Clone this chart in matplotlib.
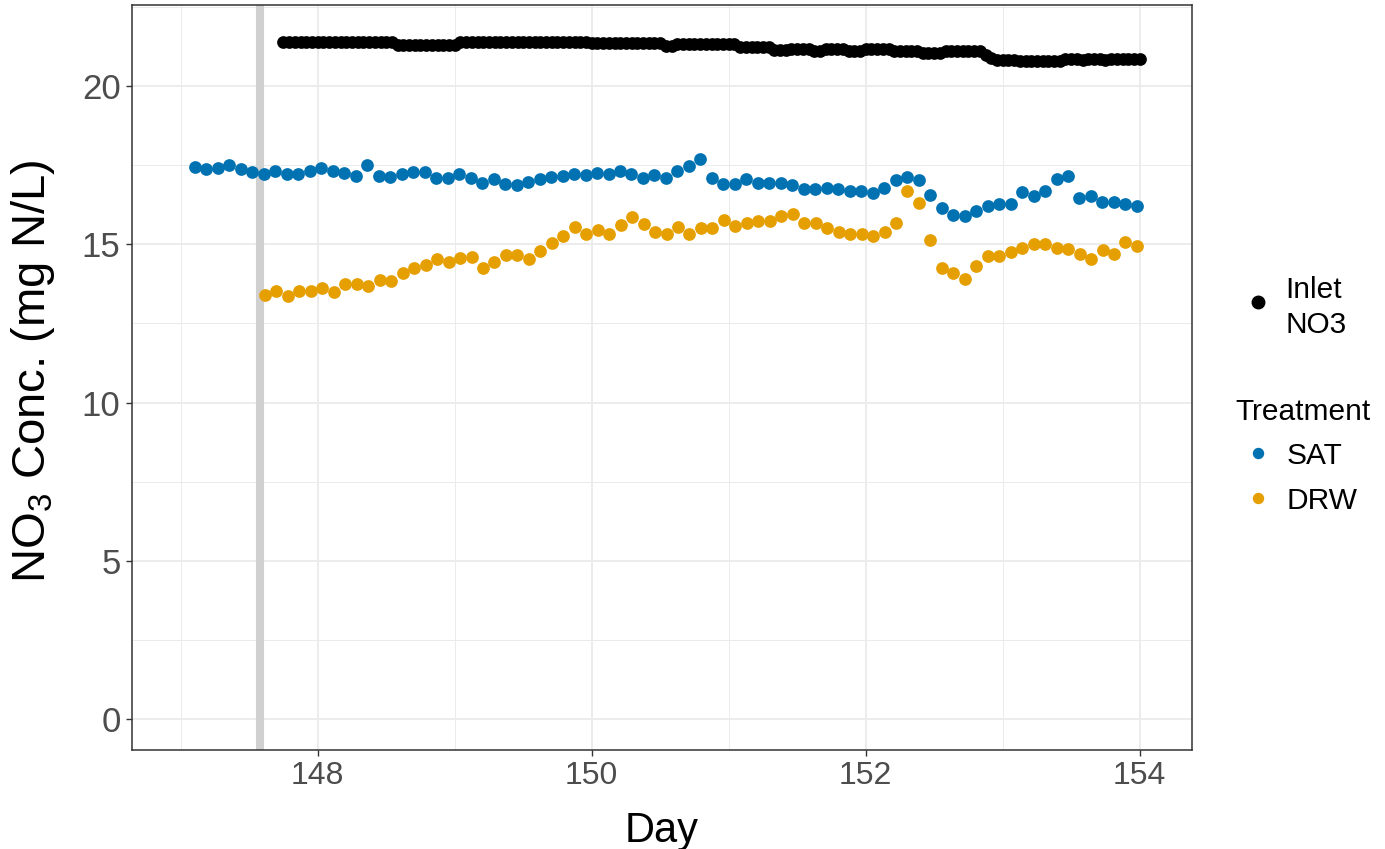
import numpy as np
import matplotlib
matplotlib.use("Agg")
import matplotlib.pyplot as plt
from matplotlib.lines import Line2D

plt.rcParams['font.family'] = ['Liberation Sans', 'DejaVu Sans']
plt.rcParams['mathtext.fontset'] = 'custom'
plt.rcParams['mathtext.rm'] = 'Liberation Sans'

# Outlet nitrate, sampled every ~2 h (mg N/L)
sat_no3 = [
    17.44, 17.39, 17.42, 17.50, 17.39, 17.29, 17.21, 17.31, 17.23, 17.23,
    17.33, 17.42, 17.33, 17.26, 17.15, 17.50, 17.15,
    17.12, 17.21, 17.29, 17.29, 17.10, 17.10, 17.23, 17.10, 16.94, 17.05,
    16.89, 16.87, 16.97, 17.05, 17.12, 17.15, 17.22,
    17.18, 17.26, 17.23, 17.31, 17.23, 17.10, 17.18, 17.10, 17.33, 17.47,
    17.68, 17.10, 16.91, 16.91, 17.05, 16.94, 16.92,
    16.93, 16.88, 16.75, 16.75, 16.77, 16.75, 16.67, 16.67, 16.62, 16.77,
    17.03, 17.14, 17.03, 16.56, 16.14, 15.91, 15.89,
    16.05, 16.21, 16.28, 16.26, 16.66, 16.52, 16.68, 17.05, 17.16, 16.47,
    16.52, 16.34, 16.34, 16.28, 16.21,
]
drw_no3 = [
    13.39, 13.52, 13.36, 13.52, 13.52, 13.61, 13.50, 13.73, 13.73, 13.68,
    13.86, 13.84, 14.10, 14.26, 14.36, 14.52, 14.45, 14.57, 14.59, 14.26,
    14.45, 14.66, 14.66, 14.55, 14.78, 15.05, 15.26, 15.55,
    15.33, 15.44, 15.33, 15.61, 15.86, 15.65, 15.40, 15.32, 15.54, 15.32,
    15.52, 15.52, 15.78, 15.57, 15.67, 15.75, 15.73,
    15.89, 15.96, 15.68, 15.68, 15.52, 15.40, 15.32, 15.32, 15.26, 15.40,
    15.68, 16.68, 16.31, 15.12, 14.26, 14.10, 13.89,
    14.31, 14.63, 14.63, 14.76, 14.89, 15.02, 15.02, 14.89, 14.84, 14.70,
    14.52, 14.81, 14.70, 15.08, 14.94,
]
# Inlet nitrate, hourly readings (mg N/L)
inlet_no3 = [
    21.40, 21.40, 21.40, 21.40, 21.40, 21.40, 21.40, 21.40, 21.40, 21.40, 21.40, 21.40,
    21.40, 21.40, 21.40, 21.40, 21.40, 21.40, 21.40, 21.40, 21.31, 21.31, 21.31, 21.31,
    21.31, 21.31, 21.31, 21.31, 21.31, 21.31, 21.31, 21.39, 21.39, 21.39, 21.39, 21.39,
    21.39, 21.39, 21.39, 21.39, 21.39, 21.39, 21.39, 21.39, 21.39, 21.39, 21.39, 21.39,
    21.39, 21.39, 21.39, 21.39, 21.39, 21.39, 21.35, 21.35, 21.35, 21.35, 21.35, 21.35,
    21.35, 21.35, 21.35, 21.35, 21.35, 21.35, 21.35, 21.28, 21.28, 21.33, 21.33, 21.33,
    21.33, 21.33, 21.33, 21.33, 21.33, 21.33, 21.33, 21.33, 21.24, 21.24, 21.24, 21.24,
    21.22, 21.22, 21.15, 21.15, 21.15, 21.18, 21.18, 21.18, 21.18, 21.10, 21.10, 21.17,
    21.17, 21.17, 21.17, 21.10, 21.10, 21.10, 21.17, 21.17, 21.17, 21.17, 21.17, 21.10,
    21.10, 21.10, 21.10, 21.10, 21.03, 21.03, 21.03, 21.03, 21.11, 21.11, 21.11, 21.11,
    21.11, 21.11, 21.11, 20.98, 20.88, 20.82, 20.82, 20.82, 20.82, 20.80, 20.80, 20.80,
    20.80, 20.80, 20.80, 20.80, 20.80, 20.84, 20.84, 20.84, 20.81, 20.84, 20.84, 20.84,
    20.81, 20.85, 20.85, 20.85, 20.85, 20.85, 20.85,
]

sat_days = (147.104, 153.98)
drw_days = (147.615, 153.98)
inlet_start_day = 147.75
inlet_step_hours = 1.0
marker_day = 147.575

treatments = ['SAT', 'DRW']
colors = {'SAT': '#0072B2', 'DRW': '#E69F00', 'Inlet': '#000000'}
x_ticks = [148, 150, 152, 154]
x_minor = [147, 149, 151, 153]
y_ticks = [0, 5, 10, 15, 20]
y_minor = [2.5, 7.5, 12.5, 17.5, 22.5]

sat_x = np.linspace(sat_days[0], sat_days[1], len(sat_no3))
drw_x = np.linspace(drw_days[0], drw_days[1], len(drw_no3))
inlet_x = inlet_start_day + np.arange(len(inlet_no3)) * inlet_step_hours / 24.0

W, H = 1385, 849
fig = plt.figure(figsize=(W / 100, H / 100), dpi=100)
ax_l, ax_r, ax_t, ax_b = 131.7, 1192, 5, 750
ax = fig.add_axes([ax_l / W, 1 - ax_b / H, (ax_r - ax_l) / W, (ax_b - ax_t) / H])

grid_c = '#EBEBEB'
border_c = '#333333'
ax.set_xlim(146.642, 154.382)
ax.set_ylim(-0.98, 22.56)
ax.set_xticks(x_ticks)
ax.set_xticks(x_minor, minor=True)
ax.set_yticks(y_ticks)
ax.set_yticks(y_minor, minor=True)
ax.grid(True, which='major', color=grid_c, lw=1.3, zorder=0)
ax.grid(True, which='minor', color=grid_c, lw=0.7, zorder=0)
ax.set_axisbelow(True)
ax.tick_params(which='minor', length=0)
ax.tick_params(which='major', length=4, width=1.0, color=border_c,
               labelsize=23, labelcolor='#4D4D4D', pad=4)
ax.tick_params(axis='y', which='major', labelsize=25)
for s in ax.spines.values():
    s.set_color(border_c)
    s.set_linewidth(1.1)

ax.axvline(marker_day, color='#D0D0D0', lw=5.8, zorder=1)

ms = 84
ax.scatter(inlet_x, inlet_no3, s=ms, color=colors['Inlet'], lw=0, zorder=3)
ax.scatter(sat_x, sat_no3, s=ms, color=colors['SAT'], lw=0, zorder=3)
ax.scatter(drw_x, drw_no3, s=ms, color=colors['DRW'], lw=0, zorder=3)

ax.set_xlabel('Day', fontsize=30, color='black', labelpad=14)
ax.set_ylabel(r'NO$_{\mathrm{3}}$ Conc. (mg N/L)', fontsize=34, color='black')
ax.yaxis.set_label_coords((57 - ax_l) / (ax_r - ax_l), (ax_b - 371) / (ax_b - ax_t))


def fx(px):
    return px / W


def fy(py):
    return 1 - py / H


leg_fs = 21.5
fig.add_artist(Line2D([fx(1258.3)], [fy(302.3)], marker='o', ms=9.0, color='black',
                      lw=0, transform=fig.transFigure))
fig.text(fx(1285), fy(298.3), 'Inlet', fontsize=leg_fs, ha='left', va='baseline')
fig.text(fx(1285), fy(333.3), 'NO3', fontsize=leg_fs, ha='left', va='baseline')
fig.text(fx(1235), fy(420), 'Treatment', fontsize=leg_fs, ha='left', va='baseline')
for name, cy in zip(treatments, [452.7, 497.7]):
    fig.add_artist(Line2D([fx(1258.3)], [fy(cy)], marker='o', ms=7.2, color=colors[name],
                          lw=0, transform=fig.transFigure))
    fig.text(fx(1286.7), fy(cy + 11), name, fontsize=leg_fs, ha='left', va='baseline')

fig.savefig('out.png', dpi=100)
